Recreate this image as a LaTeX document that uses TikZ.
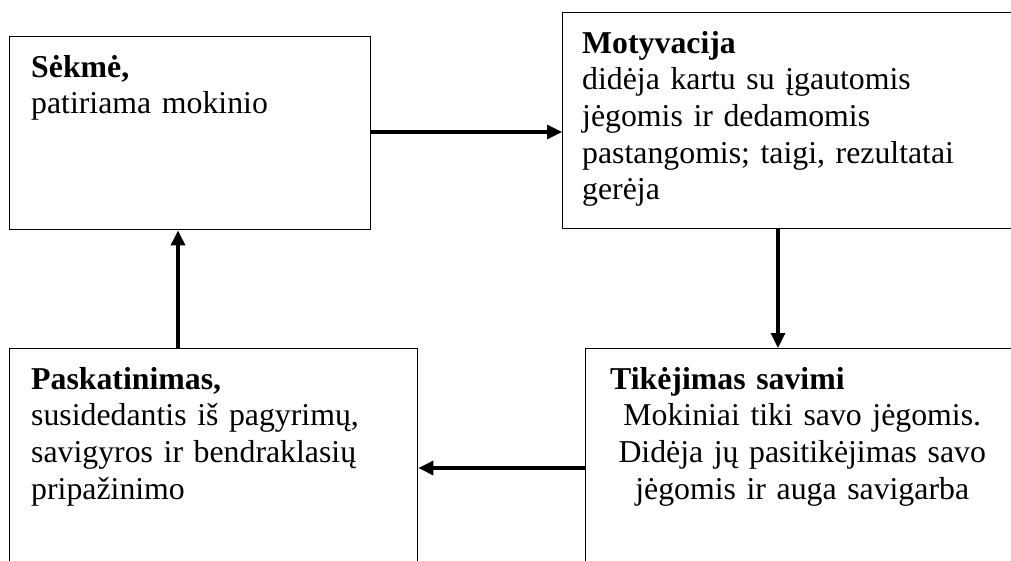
\documentclass[tikz,border=0pt]{standalone}
\usepackage{fontspec}
\setmainfont{Liberation Serif}
\usetikzlibrary{arrows.meta}
\tikzset{
  box/.style={draw, line width=1.4pt, rectangle, inner sep=0pt, anchor=north west},
  arr/.style={line width=3.2pt, -{Triangle[length=15pt,width=14pt]}},
  txt/.style={anchor=base west, inner sep=0pt, font=\fontsize{31.8}{36.7}\selectfont}
}
\begin{document}
\begin{tikzpicture}[x=1pt,y=-1pt]
\useasboundingbox[fill=white] (0,0) rectangle (1011,560);
% boxes
\node[box, minimum width=361pt, minimum height=193pt] (A) at (9,36) {};
\node[box, minimum width=470pt, minimum height=216pt] (B) at (562,12) {};
\node[box, minimum width=408pt, minimum height=240pt] (C) at (9,348) {};
\node[box, minimum width=445pt, minimum height=240pt] (D) at (585,348) {};
% texts
\node[txt, text width=330pt] (tA) at (31,77) {\textbf{Sėkmė,}\\patiriama mokinio};
\node[txt, text width=420pt] (tB) at (582,53) {\textbf{Motyvacija}\\didėja kartu su įgautomis\\jėgomis ir dedamomis\\pastangomis; taigi, rezultatai\\gerėja};
\node[txt, text width=380pt] (tC) at (31,389) {\textbf{Paskatinimas,}\\susidedantis iš pagyrimų,\\savigyros ir bendraklasių\\pripažinimo};
\node[txt, text width=384pt] (tD) at (610,389) {\textbf{Tikėjimas savimi}\par{\centering Mokiniai tiki savo jėgomis.\\Didėja jų pasitikėjimas savo\\jėgomis ir auga savigarba\par}};
% connectors
\coordinate (ab) at (370,132);
\coordinate (bd) at (778,228);
\coordinate (dc) at (585,468);
\coordinate (ca) at (178,348);
\draw[arr] (ab) -- (ab -| B.west);
\draw[arr] (bd) -- (bd |- D.north);
\draw[arr] (dc) -- (dc -| C.east);
\draw[arr] (ca) -- (ca |- A.south);
\end{tikzpicture}
\end{document}
